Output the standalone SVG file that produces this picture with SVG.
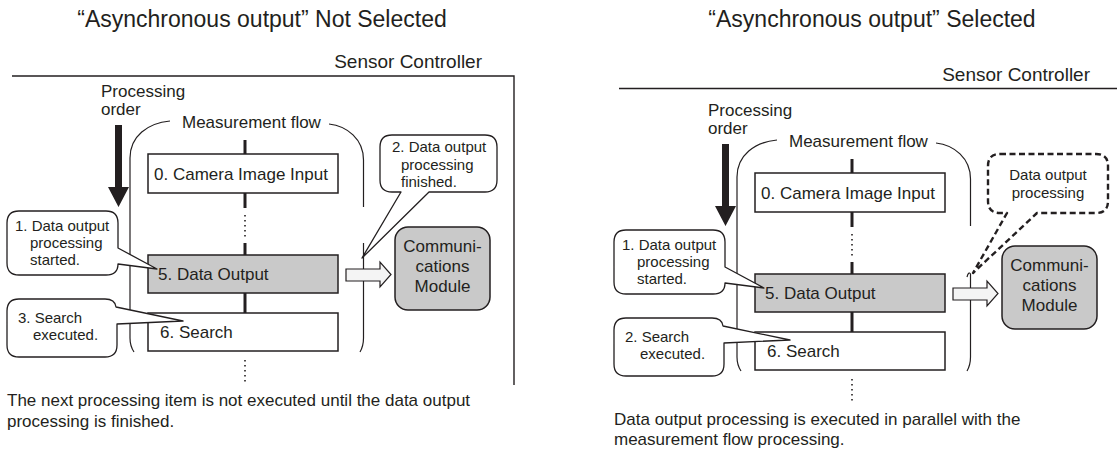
<svg xmlns="http://www.w3.org/2000/svg" width="1117" height="452" viewBox="0 0 1117 452">
<style>
.t{font-family:"Liberation Sans",Arial,sans-serif;fill:#231f20}
.title{font-size:23px}
.sc{font-size:19px}
.m{font-size:17px}
.c{font-size:15px}
.box{fill:#fff;stroke:#231f20;stroke-width:1.5}
.gray{fill:#c9c9c9}
.callout{fill:#fff;stroke:#231f20;stroke-width:1.3;stroke-linejoin:round}
.dashed{fill:#fff;stroke:#231f20;stroke-width:2.4;stroke-dasharray:6 3.5;stroke-linejoin:round}
.frame{fill:none;stroke:#231f20;stroke-width:1.4}
.thin{fill:none;stroke:#231f20;stroke-width:1.2}
.flow{stroke:#231f20;stroke-width:3}
.dots{stroke:#231f20;stroke-width:1.6;stroke-dasharray:1.6 3.4}
.hollow{fill:#f4f4f4;stroke:#231f20;stroke-width:1.2;stroke-linejoin:miter}
.order{fill:#231f20}
</style>

<!-- LEFT PANEL -->
<g id="left-titles">
<text class="t title" x="262" y="27" text-anchor="middle">“Asynchronous output” Not Selected</text>
<text class="t sc" x="482" y="68" text-anchor="end">Sensor Controller</text>
<path class="frame" d="M12,76 H514 V385"/>
<text class="t m" x="101" y="97">Processing</text>
<text class="t m" x="101" y="115">order</text>
<text class="t m" x="182" y="128">Measurement flow</text>
</g>

<g id="left-connectors">
<polygon class="order" points="115,125 122,125 122,187 129,187 118.5,207 108,187 115,187"/>
<path class="thin" d="M170,121 C148,123 130,136 130,158 V338 Q130,346 134,352"/>
<path class="thin" d="M329,124 C347,126 363.5,139 363.5,160 V207 M363.5,243 V338 Q363.5,346 360,352"/>
<line class="flow" x1="245" y1="140" x2="245" y2="154"/>
<line class="flow" x1="245" y1="193" x2="245" y2="208"/>
<line class="dots" x1="245" y1="215" x2="245" y2="239"/>
<line class="flow" x1="245" y1="243" x2="245" y2="255"/>
<line class="flow" x1="245" y1="293" x2="245" y2="313"/>
<line class="dots" x1="245" y1="360" x2="245" y2="384"/>
<polygon class="hollow" points="346,269 380,269 380,262 391,274.5 380,287 380,281 346,281"/>
</g>

<g id="left-box0">
<rect class="box" x="148" y="154" width="190" height="39"/>
<text class="t m" x="154" y="180">0. Camera Image Input</text>
</g>
<g id="left-box5">
<rect class="box gray" x="148" y="255" width="190" height="38"/>
<text class="t m" x="158" y="280">5. Data Output</text>
</g>
<g id="left-box6">
<rect class="box" x="148" y="313" width="190" height="38"/>
<text class="t m" x="160" y="338">6. Search</text>
</g>
<g id="left-comm">
<rect class="box gray" x="395" y="227" width="95" height="83" rx="13"/>
<text class="t m" x="442.5" y="252" text-anchor="middle">Communi-</text>
<text class="t m" x="442.5" y="272" text-anchor="middle">cations</text>
<text class="t m" x="442.5" y="292" text-anchor="middle">Module</text>
</g>

<g id="left-callout1">
<path class="callout" d="M19,211 H106 Q118,211 118,223 V248 L157,269 L118,264 Q118,275 106,275 H19 Q7,275 7,263 V223 Q7,211 19,211 Z"/>
<text class="t c" x="15" y="231">1. Data output</text>
<text class="t c" x="30" y="248">processing</text>
<text class="t c" x="30" y="265">started.</text>
</g>
<g id="left-callout2">
<path class="callout" d="M392,135 H485 Q497,135 497,147 V180 Q497,192 485,192 H429 L362,258 L401,192 H392 Q380,192 380,180 V147 Q380,135 392,135 Z"/>
<text class="t c" x="392" y="152">2. Data output</text>
<text class="t c" x="401" y="169.5">processing</text>
<text class="t c" x="401" y="187">finished.</text>
</g>
<g id="left-callout3">
<path class="callout" d="M19,299 H105 Q115,299 116,307 L183,321 L117,324 V345 Q117,357 105,357 H19 Q7,357 7,345 V311 Q7,299 19,299 Z"/>
<text class="t c" x="18" y="323">3. Search</text>
<text class="t c" x="33" y="340">executed.</text>
</g>

<g id="left-note">
<text class="t m" x="7" y="406">The next processing item is not executed until the data output</text>
<text class="t m" x="7" y="426.5">processing is finished.</text>
</g>

<!-- RIGHT PANEL -->
<g id="right-titles">
<text class="t title" x="872" y="27" text-anchor="middle">“Asynchronous output” Selected</text>
<text class="t sc" x="1090" y="81" text-anchor="end">Sensor Controller</text>
<path class="frame" d="M619,88.5 H1117"/>
<text class="t m" x="708" y="116">Processing</text>
<text class="t m" x="708" y="134">order</text>
<text class="t m" x="789" y="147">Measurement flow</text>
</g>

<g id="right-connectors">
<polygon class="order" points="722,144 729,144 729,206 736,206 725.5,226 715,206 722,206"/>
<path class="thin" d="M777,140 C755,142 737,155 737,177 V357 Q737,365 741,371"/>
<path class="thin" d="M936,143 C954,145 970.5,158 970.5,179 V226 M967,277 Q968.5,271 970.5,274 V357 Q970.5,365 967,371"/>
<line class="flow" x1="852" y1="159" x2="852" y2="173"/>
<line class="flow" x1="852" y1="212" x2="852" y2="227"/>
<line class="dots" x1="852" y1="234" x2="852" y2="258"/>
<line class="flow" x1="852" y1="262" x2="852" y2="274"/>
<line class="flow" x1="852" y1="312" x2="852" y2="332"/>
<line class="dots" x1="852" y1="379" x2="852" y2="403"/>
<polygon class="hollow" points="953,288 987,288 987,281 998,293.5 987,306 987,300 953,300"/>
</g>

<g id="right-box0">
<rect class="box" x="755" y="173" width="190" height="39"/>
<text class="t m" x="761" y="199">0. Camera Image Input</text>
</g>
<g id="right-box5">
<rect class="box gray" x="755" y="274" width="190" height="38"/>
<text class="t m" x="765" y="299">5. Data Output</text>
</g>
<g id="right-box6">
<rect class="box" x="755" y="332" width="190" height="38"/>
<text class="t m" x="767" y="357">6. Search</text>
</g>
<g id="right-comm">
<rect class="box gray" x="1002" y="246" width="95" height="83" rx="13"/>
<text class="t m" x="1049.5" y="271" text-anchor="middle">Communi-</text>
<text class="t m" x="1049.5" y="291" text-anchor="middle">cations</text>
<text class="t m" x="1049.5" y="311" text-anchor="middle">Module</text>
</g>

<g id="right-callout1">
<path class="callout" d="M626,230 H713 Q725,230 725,242 V267 L764,288 L725,283 Q725,294 713,294 H626 Q614,294 614,282 V242 Q614,230 626,230 Z"/>
<text class="t c" x="622" y="250">1. Data output</text>
<text class="t c" x="637" y="267">processing</text>
<text class="t c" x="637" y="284">started.</text>
</g>
<g id="right-callout2">
<path class="callout" d="M626,318 H712 Q722,318 723,326 L790,340 L724,343 V364 Q724,376 712,376 H626 Q614,376 614,364 V330 Q614,318 626,318 Z"/>
<text class="t c" x="625" y="342">2. Search</text>
<text class="t c" x="640" y="359">executed.</text>
</g>
<g id="right-callout-dashed">
<path class="dashed" d="M1000,154 H1096 Q1108,154 1108,166 V201 Q1108,213 1096,213 H1037 L973,273 L1007,213 H1000 Q988,213 988,201 V166 Q988,154 1000,154 Z"/>
<text class="t c" x="1048" y="180" text-anchor="middle">Data output</text>
<text class="t c" x="1048" y="198" text-anchor="middle">processing</text>
</g>

<g id="right-note">
<text class="t m" x="614" y="425">Data output processing is executed in parallel with the</text>
<text class="t m" x="614" y="445">measurement flow processing.</text>
</g>
</svg>
